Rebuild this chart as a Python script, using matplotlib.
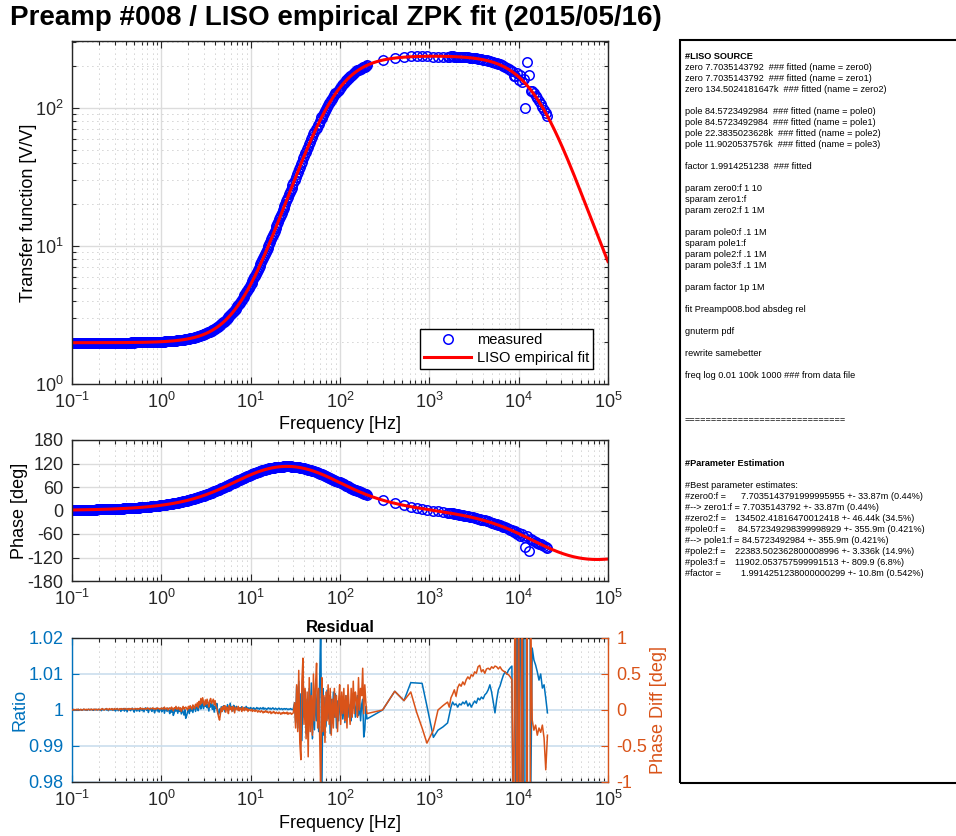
import numpy as np
import matplotlib
matplotlib.use("Agg")
import matplotlib.pyplot as plt
from matplotlib.patches import Rectangle
from matplotlib.ticker import LogLocator, NullFormatter

plt.rcParams['font.family'] = ['Liberation Sans Narrow', 'Liberation Sans', 'DejaVu Sans']
plt.rcParams['axes.unicode_minus'] = False

# LISO fit result (zpk, frequencies in Hz)
zero_freqs = [7.7035143792, 7.7035143792, 134502.4181647]
pole_freqs = [84.5723492984, 84.5723492984, 22383.5023628, 11902.0537576]
gain_factor = 1.9914251238

# fit grid: "freq log 0.01 100k 1000"
fit_freq = np.logspace(-2, 5, 1001)

# measured sweep frequencies (four sweeps stitched together)
freq_low = np.logspace(-1, np.log10(30), 250)
freq_mid = np.logspace(np.log10(31), np.log10(200), 70)
freq_sparse = np.array([300, 410, 520, 620, 720, 830, 940, 1110, 1250, 1420])
freq_high = np.logspace(np.log10(1600), np.log10(21000), 60)

# residuals: magnitude ratio deviation (x1e-3) and phase difference (deg)
ratio_dev_low = [
    0.0, 0.1, 0.0, -0.1, 0.1, 0.0, 0.1, 0.2, 0.0, 0.1,
    0.1, -0.1, 0.0, 0.2, 0.1, 0.0, 0.1, -0.1, 0.1, 0.2,
    0.0, 0.1, 0.2, 0.0, -0.1, 0.1, 0.2, 0.1, 0.0, 0.1,
    0.2, 0.0, 0.1, -0.2, 0.1, 0.2, 0.0, 0.1, 0.3, 0.0,
    0.1, -0.2, 0.2, 0.1, 0.0, 0.3, -0.1, 0.2, 0.0, -0.3,
    0.2, 0.4, -0.2, 0.1, 0.3, -0.4, 0.2, 0.0, 0.4, -0.3,
    0.1, 0.3, -0.5, 0.2, 0.4, 0.0, -0.2, 0.3, 0.5, -0.1,
    -0.6, 0.2, 0.3, -0.3, 0.4, 0.1, -0.4, 0.5, 0.2, -0.2,
    0.3, -0.5, 0.4, 0.6, -0.1, 0.2, -0.7, 0.3, 0.5, 0.0,
    -0.4, 0.4, 0.1, -0.8, 0.2, 0.5, -0.3, 0.3, -0.6, 0.2,
    0.4, -0.5, 0.1, 0.6, -0.9, 0.2, 0.3, -0.4, 0.5, -0.2,
    -1.0, 0.3, -0.6, 0.4, -1.5, -0.8, 0.2, -0.3, 0.6, -0.9,
    0.3, -0.4, 0.5, -1.1, 0.2, -0.6, -1.4, 0.1, -2.3, -1.6,
    -0.5, 0.4, -1.0, 0.6, -0.3, 0.8, -0.7, 0.5, 1.0, -0.4,
    0.7, 1.4, -0.2, 0.9, 1.8, 0.3, 2.8, 1.2, 0.4, 2.0,
    1.0, 2.5, 0.6, 1.6, -0.3, 1.9, 0.8, 2.3, 0.2, 1.4,
    -0.6, 1.1, 0.5, 1.8, -0.9, -1.2, 0.3, -0.8, 0.9, -0.4,
    0.6, 1.2, -0.5, 0.8, 0.2, 1.5, -0.2, 0.7, 1.9, 0.4,
    0.9, -0.3, 1.3, 0.5, 0.2, 1.0, 0.4, 0.8, -0.2, 0.6,
    0.3, 0.9, 0.5, 0.1, 0.7, 0.4, 1.0, 0.2, 0.6, 0.5,
    0.3, 0.7, 0.4, 0.2, 0.6, 0.5, 0.1, 0.4, 0.7, 0.3,
    0.5, 0.2, 0.6, 0.4, 0.3, 0.7, 0.2, 0.5, 0.4, 0.1,
    0.4, 0.6, 0.3, 0.5, 0.2, 0.4, 0.6, 0.3, 0.2, 0.5,
    0.3, 0.1, 0.4, 0.5, 0.2, 0.3, 0.4, 0.1, 0.3, 0.4,
    0.2, 0.4, 0.3, 0.1, 0.3, 0.2, 0.4, 0.2, 0.1, 0.3]
phase_diff_low = [
    0.00, 0.00, 0.01, 0.00, 0.00, 0.01, 0.00, 0.01, 0.00, 0.00,
    0.01, 0.00, 0.00, 0.01, 0.01, 0.00, 0.01, 0.00, 0.01, 0.01,
    0.00, 0.01, 0.01, 0.00, 0.01, 0.01, 0.00, 0.01, 0.01, 0.00,
    0.01, 0.01, 0.00, 0.01, 0.02, 0.01, 0.00, 0.01, 0.01, 0.02,
    0.01, 0.00, 0.02, 0.01, 0.01, 0.02, 0.00, 0.01, 0.02, 0.01,
    0.01, 0.02, 0.01, 0.00, 0.02, 0.01, 0.02, 0.01, 0.01, 0.02,
    0.02, 0.01, 0.01, 0.02, 0.00, 0.02, 0.01, 0.02, 0.02, 0.01,
    0.01, 0.02, 0.02, 0.01, 0.02, 0.01, 0.02, 0.03, 0.01, 0.02,
    0.02, 0.01, 0.02, 0.02, 0.01, 0.03, 0.02, 0.01, 0.02, 0.02,
    0.02, 0.03, 0.01, 0.02, 0.02, 0.01, 0.03, 0.02, 0.02, 0.01,
    0.02, 0.03, 0.01, 0.02, 0.04, 0.01, 0.02, 0.03, 0.00, 0.02,
    0.03, 0.01, 0.04, 0.02, -0.01, 0.03, 0.02, 0.05, 0.01, 0.02,
    0.04, 0.00, 0.03, -0.02, 0.02, 0.05, 0.01, 0.03, 0.04, 0.02,
    0.00, 0.05, 0.02, 0.06, 0.03, 0.01, 0.07, 0.04, 0.02, 0.08,
    0.05, 0.10, 0.03, 0.12, 0.07, 0.16, 0.09, 0.17, 0.11, 0.06,
    0.14, 0.08, 0.15, 0.10, 0.04, 0.13, 0.16, 0.09, 0.12, 0.15,
    0.07, 0.13, 0.05, 0.02, -0.04, -0.10, -0.14, -0.06, 0.03, -0.02,
    0.05, 0.01, 0.06, -0.03, 0.04, 0.02, -0.05, 0.06, 0.01, 0.04,
    -0.02, 0.05, 0.03, -0.04, 0.04, 0.02, 0.00, 0.05, -0.01, 0.03,
    0.02, -0.02, 0.04, 0.01, -0.01, 0.03, 0.00, 0.02, -0.02, 0.01,
    0.00, -0.01, 0.01, -0.02, 0.00, -0.01, -0.02, 0.00, -0.01, -0.03,
    -0.01, -0.02, -0.03, -0.01, -0.02, -0.04, -0.02, -0.03, -0.01, -0.03,
    -0.02, -0.04, -0.03, -0.02, -0.05, -0.03, -0.04, -0.02, -0.04, -0.05,
    -0.03, -0.04, -0.05, -0.03, -0.04, -0.06, -0.04, -0.05, -0.03, -0.05,
    -0.04, -0.05, -0.03, -0.06, -0.04, -0.05, -0.04, -0.06, -0.05, -0.04]

ratio_dev_mid = [
    2.0, -3.5, 6.5, -5.0, 8.0, -7.0, 4.5, -8.5, 7.0, -2.0,
    5.5, -6.5, 3.0, -7.5, 6.0, -4.0, 7.5, -8.0, 2.5, -5.5,
    6.0, -3.0, 4.5, -6.0, 8.5, 25.0, -25.0, 6.0, -7.0, 3.5,
    -4.5, 5.5, -2.5, 4.0, -6.5, 3.0, -3.5, 5.0, -2.0, 4.5,
    -5.0, 2.5, -3.0, 4.0, -1.5, 3.5, -2.5, 2.0, -3.5, 4.0,
    -1.0, 3.0, -2.0, 1.5, -3.0, 2.5, 0.5, 3.5, -2.0, 1.0,
    4.0, -1.5, 2.0, -3.0, 1.5, 3.0, -7.5, -5.5, 1.0, -2.5]
phase_diff_mid = [
    0.10, -0.25, 0.35, -0.30, 0.55, -0.45, -0.69, 0.40, 0.72, -0.20,
    0.30, -0.40, 0.25, -0.65, 0.45, -0.30, 0.20, -0.35, 0.50, -0.15,
    0.35, 0.65, -0.25, 0.30, -0.40, -1.20, 0.45, -0.30, 0.20, -0.45,
    0.25, -0.15, 0.35, -0.20, 0.30, -0.35, 0.15, -0.25, 0.30, -0.10,
    0.20, -0.30, 0.10, 0.35, -0.20, 0.25, -0.05, 0.30, -0.15, 0.20,
    -0.25, 0.35, 0.05, -0.20, 0.30, -0.10, 0.40, -0.05, 0.25, 0.15,
    -0.10, 0.45, 0.00, 0.30, 0.20, 0.58, -0.05, 0.35, 0.10, -0.05]

ratio_dev_sparse = [0.0, 5.2, 2.6, 7.6, 7.5, 7.4, 1.1, -7.6, -5.6, -4.7]
phase_diff_sparse = [0.00, 0.26, 0.13, 0.25, -0.03, -0.25, -0.46, -0.28, 0.00, 0.06]

ratio_dev_high = [
    -3.6, -1.4, 0.8, 2.2, 1.4, 1.7, 0.8, 1.7, 1.4, 2.2,
    1.7, 2.5, 1.1, 1.9, 0.8, 1.7, 2.5, 1.9, 3.3, 2.8,
    3.6, 3.1, 4.2, 4.7, 5.6, 7.0, 5.0, 2.2, -0.8, 2.8,
    5.6, 6.7, 8.3, 9.7, 10.6, 10.0, 11.1, 11.7, 12.2, -60.0,
    -30.0, 40.0, -50.0, 60.0, -40.0, 50.0, -340.0, 470.0, 230.0, -30.0,
    17.2, 13.9, 12.5, 10.6, 8.3, 10.0, 6.1, 7.0, 3.3, -0.8]
phase_diff_high = [
    0.11, 0.04, 0.17, 0.22, 0.28, 0.19, 0.31, 0.36, 0.33, 0.39,
    0.35, 0.42, 0.46, 0.43, 0.49, 0.47, 0.53, 0.51, 0.60, 0.62,
    0.53, 0.56, 0.51, 0.57, 0.58, 0.56, 0.60, 0.58, 0.61, 0.60,
    0.57, 0.60, 0.56, 0.54, 0.53, 0.50, 0.49, 0.46, 0.42, -2.0,
    2.5, -3.0, 2.0, -4.0, 3.0, -3.5, -26.0, 4.0, -32.0, 1.5,
    -0.14, -0.28, -0.21, -0.35, -0.25, -0.31, -0.21, -0.39, -0.83, -0.35]

panel_lines = [
    "#LISO SOURCE",
    "zero 7.7035143792  ### fitted (name = zero0)",
    "zero 7.7035143792  ### fitted (name = zero1)",
    "zero 134.5024181647k  ### fitted (name = zero2)",
    "",
    "pole 84.5723492984  ### fitted (name = pole0)",
    "pole 84.5723492984  ### fitted (name = pole1)",
    "pole 22.3835023628k  ### fitted (name = pole2)",
    "pole 11.9020537576k  ### fitted (name = pole3)",
    "",
    "factor 1.9914251238  ### fitted",
    "",
    "param zero0:f 1 10",
    "sparam zero1:f",
    "param zero2:f 1 1M",
    "",
    "param pole0:f .1 1M",
    "sparam pole1:f",
    "param pole2:f .1 1M",
    "param pole3:f .1 1M",
    "",
    "param factor 1p 1M",
    "",
    "fit Preamp008.bod absdeg rel",
    "",
    "gnuterm pdf",
    "",
    "rewrite samebetter",
    "",
    "freq log 0.01 100k 1000 ### from data file",
    "", "", "",
    "==============================",
    "", "", "",
    "#Parameter Estimation",
    "",
    "#Best parameter estimates:",
    "#zero0:f =\t7.7035143791999995955 +- 33.87m (0.44%)",
    "#--> zero1:f = 7.7035143792 +- 33.87m (0.44%)",
    "#zero2:f =\t134502.41816470012418 +- 46.44k (34.5%)",
    "#pole0:f =\t84.572349298399998929 +- 355.9m (0.421%)",
    "#--> pole1:f = 84.5723492984 +- 355.9m (0.421%)",
    "#pole2:f =\t22383.502362800008996 +- 3.336k (14.9%)",
    "#pole3:f =\t11902.053757599991513 +- 809.9 (6.8%)",
    "#factor =\t1.9914251238000000299 +- 10.8m (0.542%)",
]
bold_lines = ["#LISO SOURCE", "#Parameter Estimation"]
tab_stops = [741, 735, 738, 735, 735, 741]


def zpk_response(f):
    s = 1j * np.asarray(f)
    h = gain_factor * np.ones_like(s)
    for z in zero_freqs:
        h = h * (1 + s / z)
    for p in pole_freqs:
        h = h / (1 + s / p)
    return h


meas_freq = np.concatenate([freq_low, freq_mid, freq_sparse, freq_high])
ratio = 1 + np.concatenate([ratio_dev_low, ratio_dev_mid, ratio_dev_sparse, ratio_dev_high]) * 1e-3
phase_diff = np.concatenate([phase_diff_low, phase_diff_mid, phase_diff_sparse, phase_diff_high])

h_fit = zpk_response(fit_freq)
fit_mag = np.abs(h_fit)
fit_phase = np.degrees(np.unwrap(np.angle(h_fit)))

h_meas = zpk_response(meas_freq)
meas_mag = np.abs(h_meas) * ratio
meas_phase = np.degrees(np.unwrap(np.angle(h_meas))) + phase_diff

W, H = 956, 836
fig = plt.figure(figsize=(W / 100, H / 100), dpi=100)

BLUE = '#0072BD'
ORANGE = '#D95319'
GRID = '#dcdcdc'
DOTS = '#a6a6a6'
LABEL_SIZE = 13


def px_axes(x0, y0, x1, y1):
    return fig.add_axes([x0 / W, 1 - y1 / H, (x1 - x0) / W, (y1 - y0) / H])


def style_axes(ax, minor_y=False, right_ticks=True):
    ax.set_xscale('log')
    ax.set_xlim(0.1, 1e5)
    ax.set_xticks([1e-1, 1e0, 1e1, 1e2, 1e3, 1e4, 1e5])
    ax.xaxis.set_minor_locator(LogLocator(base=10, subs=np.arange(2, 10), numticks=20))
    ax.xaxis.set_minor_formatter(NullFormatter())
    ax.set_axisbelow(True)
    ax.grid(True, which='major', color=GRID, lw=1.0, ls='-')
    ax.grid(True, which='minor', axis='both' if minor_y else 'x', color=DOTS, lw=0.6, ls=(0, (1, 5)))
    ax.tick_params(which='both', direction='in', top=True, right=right_ticks,
                   labelsize=LABEL_SIZE, width=0.8, colors='#262626', pad=6)
    ax.tick_params(which='major', length=5)
    ax.tick_params(which='minor', length=3)
    for sp in ax.spines.values():
        sp.set_linewidth(1.0)
        sp.set_color('#262626')


# transfer function magnitude
ax1 = px_axes(72, 41, 608, 384)
ax1.plot(meas_freq, meas_mag, 'o', mfc='none', mec='blue', ms=6.8, mew=1.1, label='measured')
ax1.plot(fit_freq, fit_mag, '-', color='red', lw=2.2, label='LISO empirical fit')
ax1.set_yscale('log')
style_axes(ax1, minor_y=True)
ax1.set_ylim(1, 306)
ax1.set_yticks([1, 10, 100])
ax1.yaxis.set_minor_locator(LogLocator(base=10, subs=np.arange(2, 10), numticks=20))
ax1.yaxis.set_minor_formatter(NullFormatter())
ax1.set_xlabel('Frequency [Hz]', fontsize=LABEL_SIZE)
ax1.xaxis.set_label_coords(0.5, -0.093)
ax1.set_ylabel('Transfer function [V/V]', fontsize=LABEL_SIZE)
ax1.yaxis.set_label_coords(-0.066, 0.5)
leg = ax1.legend(loc='lower right', fontsize=10.5, fancybox=False, framealpha=1,
                 edgecolor='black', handlelength=3.2, borderaxespad=1.0,
                 labelspacing=0.25, borderpad=0.3, handletextpad=0.4)
leg.get_frame().set_linewidth(1.0)

# phase
ax2 = px_axes(72, 440, 608, 581)
ax2.plot(meas_freq, meas_phase, 'o', mfc='none', mec='blue', ms=6.8, mew=1.1)
ax2.plot(fit_freq, fit_phase, '-', color='red', lw=2.2)
style_axes(ax2)
ax2.set_ylim(-180, 180)
ax2.set_yticks(np.arange(-180, 181, 60))
ax2.set_ylabel('Phase [deg]', fontsize=LABEL_SIZE)
ax2.yaxis.set_label_coords(-0.082, 0.5)

# residuals
ax3 = px_axes(72, 638, 608, 782)
ax3.plot(meas_freq, ratio, color=BLUE, lw=1.1)
style_axes(ax3, right_ticks=False)
ax3.grid(False, which='major', axis='y')
ax3.grid(True, which='major', axis='y', color='#cbdeed', lw=1.2)
ax3.set_ylim(0.98, 1.02)
ax3.set_yticks([0.98, 0.99, 1.0, 1.01, 1.02])
ax3.set_yticklabels(['0.98', '0.99', '1', '1.01', '1.02'])
ax3.tick_params(axis='y', which='both', colors=BLUE)
ax3.spines['left'].set_color(BLUE)
ax3.spines['right'].set_visible(False)
ax3.set_title('Residual', fontsize=12, fontweight='bold', pad=4)
ax3.set_xlabel('Frequency [Hz]', fontsize=LABEL_SIZE)
ax3.xaxis.set_label_coords(0.5, -0.23)
ax3.set_ylabel('Ratio', fontsize=LABEL_SIZE, color=BLUE)
ax3.yaxis.set_label_coords(-0.082, 0.5)

ax3r = ax3.twinx()
ax3r.plot(meas_freq, phase_diff, color=ORANGE, lw=1.1)
ax3r.set_ylim(-1, 1)
ax3r.set_yticks([-1, -0.5, 0, 0.5, 1])
ax3r.set_yticklabels(['-1', '-0.5', '0', '0.5', '1'])
ax3r.tick_params(axis='y', direction='in', length=5, width=0.8, colors=ORANGE,
                 labelsize=LABEL_SIZE, pad=6)
for name, sp in ax3r.spines.items():
    sp.set_linewidth(1.0)
    sp.set_visible(name == 'right')
ax3r.spines['right'].set_color(ORANGE)
ax3r.set_ylabel('Phase Diff [deg]', fontsize=LABEL_SIZE, color=ORANGE)
ax3r.yaxis.set_label_coords(1.078, 0.5)

fig.text(10 / W, 1 - 18 / H, 'Preamp #008 / LISO empirical ZPK fit (2015/05/16)',
         fontsize=20, fontweight='bold', ha='left', va='center')

# LISO source / parameter estimation panel
fig.add_artist(Rectangle((679.5 / W, 1 - 783 / H), 300 / W, 743 / H, transform=fig.transFigure,
                         fill=False, lw=1.5, ec='black'))
panel_font = ['Liberation Sans', 'DejaVu Sans']
tab_i = 0
for i, line in enumerate(panel_lines):
    if not line:
        continue
    y = 1 - (59 + 11 * i) / H
    weight = 'bold' if line in bold_lines else 'normal'
    if '\t' in line:
        left, right = line.split('\t')
        fig.text(685 / W, y, left, fontsize=6.6, family=panel_font, va='baseline')
        fig.text(tab_stops[tab_i] / W, y, right, fontsize=6.6, family=panel_font, va='baseline')
        tab_i += 1
    else:
        fig.text(685 / W, y, line, fontsize=6.6, family=panel_font, fontweight=weight, va='baseline')

fig.savefig('out.png', dpi=100)
